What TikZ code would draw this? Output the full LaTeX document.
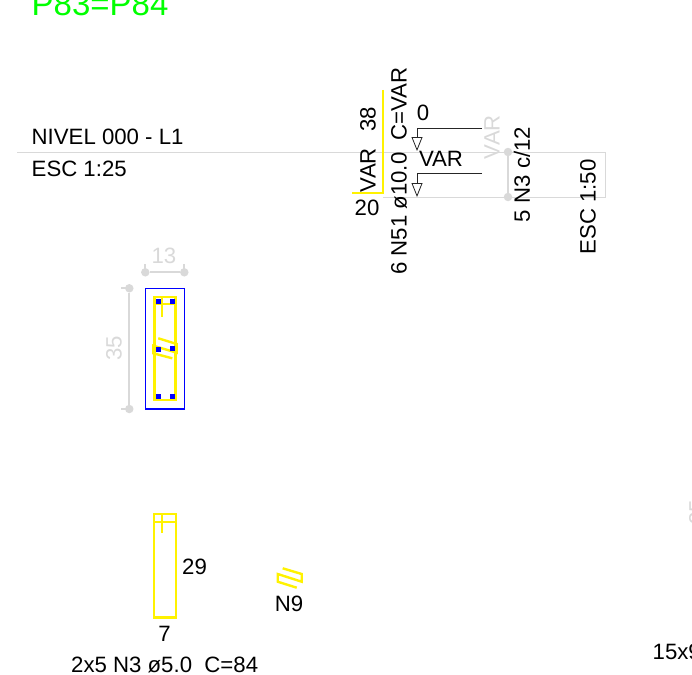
\documentclass[tikz,border=0pt]{standalone}
\usepackage{fontspec}
\setmainfont{Liberation Sans}
\usetikzlibrary{arrows.meta}
\definecolor{dimgray}{RGB}{217,217,217}
\begin{document}
\begin{tikzpicture}
[x=1pt,y=-1pt,
  labeldecorate/.style={inner sep=0pt,font=\fontsize{22.2}{26}\selectfont},
  leftdecorate/.style={labeldecorate,anchor=base west},
  sidedecorate/.style={labeldecorate,rotate=90},
  dimdecorate/.style={labeldecorate,text=dimgray},
  dotdecorate/.style={shape=circle,inner sep=0pt,minimum size=8.5pt,fill=dimgray},
  dimlinedecorate/.style={dimgray,line width=1.8pt},
  framedecorate/.style={dimgray,line width=1pt},
  bardecorate/.style={yellow,line width=2.4pt},
  leaderdecorate/.style={black!85,line width=0.8pt,-{Triangle[open,length=14pt,width=11pt]}},
  rebardecorate/.style={shape=rectangle,inner sep=0pt,minimum size=5pt,fill=blue}]
\useasboundingbox (0,0) rectangle (692,674);
\clip (0,0) rectangle (692,674);
%% frame of the level
\coordinate (fl) at (17,152);
\coordinate (fr) at (605,152);
\coordinate (gl) at (383,197);
\coordinate (gr) at (605,197);
\draw[framedecorate] (fl) -- (fr) -- (gr) -- (gl);
%% left aligned labels
\foreach \nodename/\x/\y/\txt in {level/31.5/144.5/NIVEL 000 - L1, scale/31.5/176/ESC 1:25,
  barlabel/71/672/{2x5 N3 ø5.0\ \ C=84}, cutlabel/652.5/659/15x9}
{
  \node (\nodename) at (\x,\y) [leftdecorate] {\txt};
}
\node (title) at (31.5,15.5) [leftdecorate,text=green,font=\fontsize{33}{38}\selectfont] {P83=P84};
%% centred labels
\foreach \nodename/\x/\y/\txt in {zero/423/113/0, var/441/159/VAR, twenty/367/208/20,
  width/194.5/566.5/29, depth/164.5/633.5/7, hook/289/604/N9}
{
  \node (\nodename) at (\x,\y) [labeldecorate] {\txt};
}
%% turned labels
\foreach \nodename/\x/\y/\txt in {varside/368/170/VAR, height/368/119.5/38,
  bend/399/171/{6 N51 ø10.0\ \ C=VAR}, stirrup/522/174.5/{5 N3 c/12}, scaleside/588/207/ESC 1:50}
{
  \node (\nodename) at (\x,\y) [sidedecorate] {\txt};
}
%% dimension labels
\node (vardim) at (492,137) [dimdecorate,rotate=90] {VAR};
\node (topdim) at (164,256) [dimdecorate] {13};
\node (sidedim) at (114,348) [dimdecorate,rotate=90] {35};
\node (cutdim) at (697,512) [dimdecorate,rotate=90] {35};
%% dimension dots
\foreach \nodename/\x/\y in {va/508/152, vb/508/197, ta/145.3/272.3, tb/184.3/272.3,
  sa/129.3/288.3, sb/129.3/409}
{
  \node (\nodename) at (\x,\y) [dotdecorate] {};
}
\draw[dimlinedecorate] (va) -- (vb);
\draw[dimlinedecorate] (ta) -- (tb);
\draw[dimlinedecorate] (sa) -- (sb);
\draw[dimlinedecorate] (ta.center) -- ++(0,-8);
\draw[dimlinedecorate] (tb.center) -- ++(0,-8);
\draw[dimlinedecorate] (sa.center) -- ++(-8,0);
\draw[dimlinedecorate] (sb.center) -- ++(-8,0);
%% leaders with open tips
\foreach \nodename/\y/\tip in {a/128/151, b/173/197}
{
  \coordinate (\nodename r) at (482,\y);
  \coordinate (\nodename c) at (417,\y);
  \coordinate (\nodename t) at (417,\tip);
  \draw[leaderdecorate] (\nodename r) -- (\nodename c) -- (\nodename t);
}
%% bent bar
\draw[bardecorate] (383,90) -- (383,193) -- (352,193);
%% section
\draw[blue,line width=1.2pt] (145.3,288.3) rectangle (184.7,409);
\draw[bardecorate] (154.3,297) rectangle (175.3,400);
\draw[bardecorate] (154.3,304) -- (175.3,304);
\draw[bardecorate] (161.7,297) -- (161.7,317);
\draw[bardecorate] (158.3,338.3) -- (176.7,344) -- (176.7,352.7) -- (153.3,345.7) -- (153.3,353.3) -- (172.3,358.3);
\foreach \nodename/\x/\y in {ra/158/301, rb/172.3/301, rc/158/349, rd/172.3/348,
  re/158/396.7, rf/172.3/396.7}
{
  \node (\nodename) at (\x,\y) [rebardecorate] {};
}
%% stirrup detail
\draw[bardecorate] (154,514) rectangle (176,617.3);
\draw[bardecorate] (154,521.7) -- (176,521.7);
\draw[bardecorate] (161.7,514) -- (161.7,533.3);
%% hook detail
\draw[bardecorate] (282.7,568.3) -- (301.7,574) -- (301.7,581.7) -- (277.7,574) -- (277.7,581.7) -- (296.7,587.7);
\end{tikzpicture}
\end{document}
